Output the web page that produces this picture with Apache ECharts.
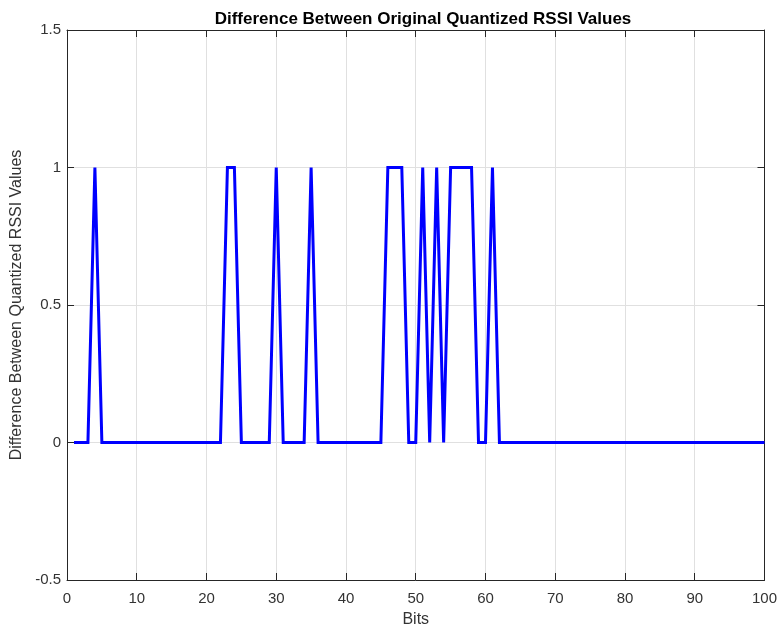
<!DOCTYPE html>
<html>
<head>
<meta charset="utf-8">
<script src="https://cdn.jsdelivr.net/npm/echarts@6/dist/echarts.min.js"></script>
<style>
  html, body { margin: 0; padding: 0; background: #fff; }
  #chart { width: 780px; height: 633px; }
</style>
</head>
<body>
<div id="chart"></div>
<script>
// bit index 1..100
var bits = [];
for (var b = 1; b <= 100; b++) bits.push(b);

var diffValues = [
  0, 0, 0, 1, 0, 0, 0, 0, 0, 0,
  0, 0, 0, 0, 0, 0, 0, 0, 0, 0,
  0, 0, 1, 1, 0, 0, 0, 0, 0, 1,
  0, 0, 0, 0, 1, 0, 0, 0, 0, 0,
  0, 0, 0, 0, 0, 1, 1, 1, 0, 0,
  1, 0, 1, 0, 1, 1, 1, 1, 0, 0,
  1, 0, 0, 0, 0, 0, 0, 0, 0, 0,
  0, 0, 0, 0, 0, 0, 0, 0, 0, 0,
  0, 0, 0, 0, 0, 0, 0, 0, 0, 0,
  0, 0, 0, 0, 0, 0, 0, 0, 0, 0
];

var axisColor = '#262626';
var labelColor = '#333333';
var gridColor = '#e0e0e0';
var fontName = '"Liberation Sans", Arial, sans-serif';

var chart = echarts.init(document.getElementById('chart'));

var points = [];
for (var i = 0; i < bits.length; i++) {
    points.push([bits[i], diffValues[i]]);
}

var option = {
    backgroundColor: '#fff',
    animation: false,
    title: {
        text: 'Difference Between Original Quantized RSSI Values',
        left: 418,
        top: 6,
        textAlign: 'center',
        textStyle: { fontFamily: fontName, fontSize: 17, fontWeight: 'bold', color: '#000' }
    },
    grid: { left: 67, right: 12, top: 30, bottom: 50 },
    xAxis: [{
        type: 'value',
        min: 0, max: 100, interval: 10,
        name: 'Bits',
        nameLocation: 'middle',
        nameGap: 32,
        nameTextStyle: { fontFamily: fontName, fontSize: 16, color: labelColor },
        axisLine: { onZero: false, lineStyle: { color: axisColor, width: 1 } },
        axisTick: { inside: true, length: 7, lineStyle: { color: axisColor } },
        axisLabel: { fontFamily: fontName, fontSize: 15, color: labelColor, margin: 11 },
        splitLine: { show: true, lineStyle: { color: gridColor, width: 1 } }
    }, {
        type: 'value',
        position: 'top',
        min: 0, max: 100, interval: 10,
        axisLine: { show: true, onZero: false, lineStyle: { color: axisColor, width: 1 } },
        axisTick: { inside: true, length: 7, lineStyle: { color: axisColor } },
        axisLabel: { show: false },
        splitLine: { show: false }
    }],
    yAxis: [{
        type: 'value',
        min: -0.5, max: 1.5, interval: 0.5,
        name: 'Difference Between Quantized RSSI Values',
        nameLocation: 'middle',
        nameGap: 39,
        nameTextStyle: { fontFamily: fontName, fontSize: 16, color: labelColor },
        axisLine: { show: true, onZero: false, lineStyle: { color: axisColor, width: 1 } },
        axisTick: { show: true, inside: true, length: 7, lineStyle: { color: axisColor } },
        axisLabel: { fontFamily: fontName, fontSize: 15, color: labelColor, margin: 6 },
        splitLine: { show: true, lineStyle: { color: gridColor, width: 1 } }
    }, {
        type: 'value',
        position: 'right',
        min: -0.5, max: 1.5, interval: 0.5,
        axisLine: { show: true, onZero: false, lineStyle: { color: axisColor, width: 1 } },
        axisTick: { show: true, inside: true, length: 7, lineStyle: { color: axisColor } },
        axisLabel: { show: false },
        splitLine: { show: false }
    }],
    series: [{
        type: 'line',
        data: points,
        xAxisIndex: 0,
        yAxisIndex: 0,
        showSymbol: false,
        lineStyle: { color: '#0000ff', width: 3, join: 'miter' },
        itemStyle: { color: '#0000ff' }
    }]
};

chart.setOption(option);
</script>
</body>
</html>
